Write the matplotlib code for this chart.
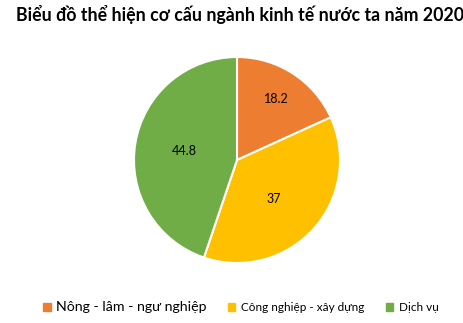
import matplotlib.pyplot as plt
import numpy as np

categories = ["Nông - lâm - ngư nghiệp", "Công nghiệp - xây dựng", "Dịch vụ"]
values = [18.2, 37, 44.8]
labels = ["18.2", "37", "44.8"]
colors = ["#ED7D31", "#FFC000", "#70AD47"]
title = "Biểu đồ thể hiện cơ cấu ngành kinh tế nước ta năm 2020"

plt.rcParams['font.family'] = ['Lato', 'DejaVu Sans']

W, H = 463, 323
fig = plt.figure(figsize=(W / 100, H / 100), dpi=100)

# pie centre and radius in pixels
cx, cy, r = 237, 160, 103
ax = fig.add_axes([(cx - r) / W, (H - cy - r) / H, 2 * r / W, 2 * r / H])

wedges, _ = ax.pie(values, colors=colors, startangle=90, counterclock=False,
                   radius=1, wedgeprops=dict(edgecolor="white", linewidth=1.5))
ax.set_xlim(-1, 1)
ax.set_ylim(-1, 1)
ax.set_aspect("equal")

# data labels, distance from centre and angle nudge per slice (like Excel best fit)
dists = [0.70, 0.52, 0.52]
nudge = [0, -5, 0]
for w, lab, d, n in zip(wedges, labels, dists, nudge):
    ang = np.deg2rad((w.theta1 + w.theta2) / 2 + n)
    ax.text(d * np.cos(ang), d * np.sin(ang), lab, ha="center", va="center",
            fontsize=9, color="#000000")

fig.text(240 / W, 1 - 14 / H, title, ha="center", va="center",
         fontsize=12.8, fontweight="bold")

handles = [plt.Rectangle((0, 0), 1, 1, color=c) for c in colors]
leg = fig.legend(handles, categories, loc="center", bbox_to_anchor=(241 / W, 1 - 307 / H),
                 ncol=3, frameon=False, fontsize=8.5, handlelength=0.6,
                 handleheight=0.6, handletextpad=0.5, columnspacing=1.8)
leg.get_texts()[0].set_fontsize(10.2)

fig.savefig("out.png", dpi=100)
